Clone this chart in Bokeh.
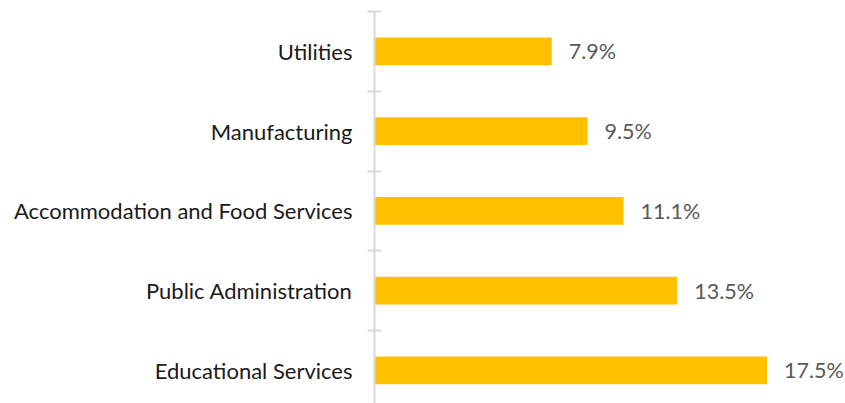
from bokeh.plotting import figure
from bokeh.models import Range1d, FixedTicker, ColumnDataSource
from bokeh.core.properties import value
from bokeh.embed import file_html
from bokeh.resources import INLINE

categories = ["Educational Services", "Public Administration",
              "Accommodation and Food Services", "Manufacturing", "Utilities"]
values = [17.5, 13.5, 11.1, 9.5, 7.9]
value_labels = ["17.5%", "13.5%", "11.1%", "9.5%", "7.9%"]

ypos = list(range(len(categories)))
src = ColumnDataSource(dict(y=ypos, v=values, lab=value_labels))

FONT = "Lato"

p = figure(width=845, height=403, output_backend="svg", toolbar_location=None,
           x_axis_location=None, y_range=Range1d(-0.415, 4.5), x_range=Range1d(0, 21),
           min_border_left=374, min_border_right=0, min_border_top=11, min_border_bottom=0)
p.outline_line_color = None
p.grid.visible = False
p.background_fill_color = "white"
p.border_fill_color = "white"

p.hbar(y="y", left=0, right="v", height=0.35, source=src, color="#FFC000", line_color=None)
p.text(x="v", y="y", text="lab", source=src, x_offset=17, text_baseline="middle",
       text_align="left", text_font=value(FONT), text_font_size="21.5px", text_color="#595959")

ax = p.yaxis[0]
ax.ticker = FixedTicker(ticks=ypos, minor_ticks=[0.5, 1.5, 2.5, 3.5, 4.5])
ax.major_label_overrides = {i: c for i, c in enumerate(categories)}
ax.axis_line_color = "#D9D9D9"
ax.axis_line_width = 2
ax.major_tick_line_color = None
ax.major_tick_in = 0
ax.major_tick_out = 0
ax.minor_tick_line_color = "#D9D9D9"
ax.minor_tick_line_width = 2
ax.minor_tick_in = 7
ax.minor_tick_out = 7
ax.major_label_standoff = 15
ax.major_label_text_font = FONT
ax.major_label_text_font_size = "22px"
ax.major_label_text_color = "#1a1a1a"

open("out.html", "w").write(file_html(p, INLINE))
